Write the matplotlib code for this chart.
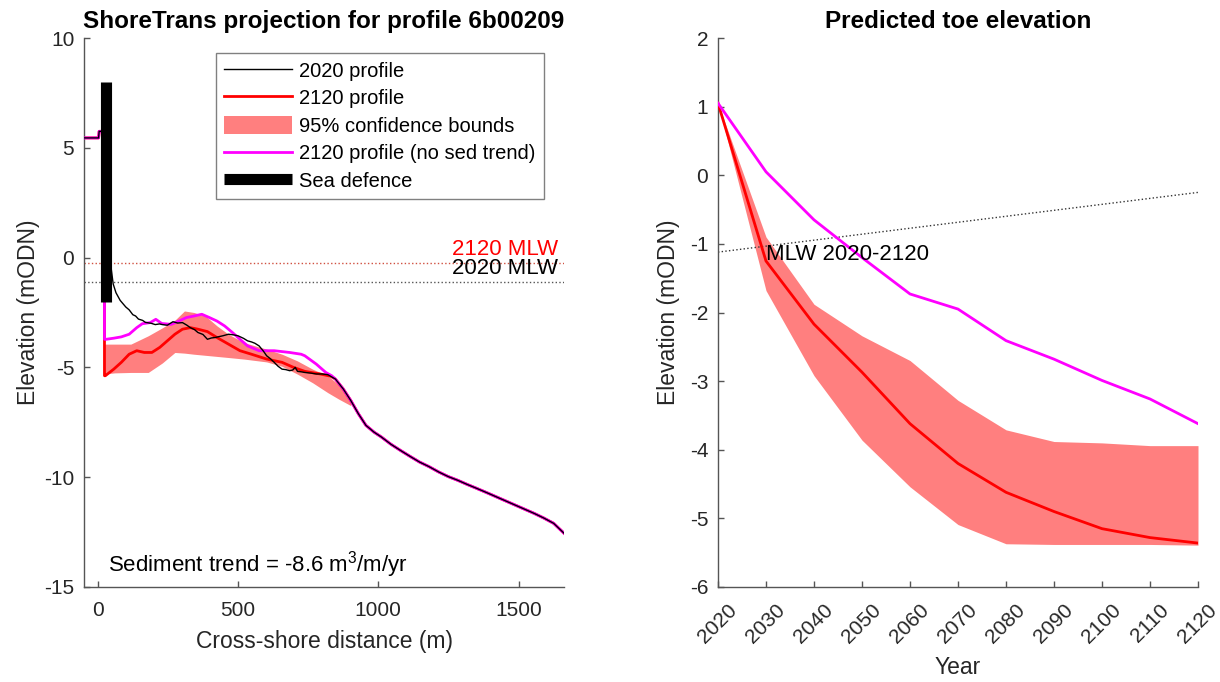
import numpy as np
import matplotlib
matplotlib.use("Agg")
import matplotlib.pyplot as plt
from matplotlib.lines import Line2D
from matplotlib.patches import Patch

plt.rcParams['font.family'] = ['Liberation Sans', 'DejaVu Sans']
plt.rcParams['mathtext.fontset'] = 'custom'
plt.rcParams['mathtext.rm'] = 'Liberation Sans'
plt.rcParams['axes.unicode_minus'] = False

# === Left panel: cross-shore profiles ===
# landward part (shared by all profiles)
land_x = [-49, 3, 5, 22]
land_z = [5.45, 5.45, 5.75, 5.75]

# 2020 profile, nearshore part
p2020_x = [30, 42, 48, 55, 65, 80, 100, 112, 125, 135, 145, 160, 170, 190, 205, 220,
           230, 248, 258, 268, 285, 302, 318, 330, 345, 357, 375, 391, 405, 418, 432,
           446, 466, 485, 500, 520, 534, 548, 560, 575, 590, 602, 615, 629, 643, 657,
           670, 684, 695, 704, 712, 725, 738, 760, 779, 800, 820]
p2020_z = [3.5, 0.5, -0.5, -1.2, -1.6, -1.95, -2.25, -2.38, -2.6, -2.66, -2.8, -2.86,
           -2.95, -2.99, -3.05, -3.02, -3.05, -3.08, -3.0, -2.92, -2.98, -2.96, -3.08,
           -3.19, -3.28, -3.41, -3.5, -3.72, -3.66, -3.64, -3.6, -3.56, -3.49, -3.52,
           -3.56, -3.68, -3.79, -3.84, -3.9, -4.02, -4.25, -4.47, -4.6, -4.77, -4.95,
           -5.08, -5.1, -5.15, -5.12, -5.0, -5.18, -5.2, -5.23, -5.26, -5.30, -5.3,
           -5.33]

# 2120 profile, nearshore part
p2120_x = [24, 24, 27, 57, 84, 112, 139, 166, 193, 221, 248, 275, 302, 330, 357, 391,
           425, 466, 507, 548, 602, 657, 698, 738, 793, 830]
p2120_z = [5.75, -5.38, -5.38, -5.08, -4.77, -4.40, -4.24, -4.32, -4.32, -4.09, -3.79,
           -3.49, -3.26, -3.19, -3.26, -3.37, -3.64, -3.94, -4.24, -4.40, -4.62, -4.77,
           -5.0, -5.18, -5.30, -5.4]

# 2120 profile without sediment trend, nearshore part
nosed_x = [24, 24, 30, 57, 84, 112, 139, 159, 187, 207, 228, 262, 289, 316, 343, 371,
           398, 425, 452, 480, 507, 534, 575, 629, 684, 725, 738, 779, 813, 834]
nosed_z = [5.75, -3.72, -3.72, -3.67, -3.61, -3.49, -3.19, -3.01, -2.96, -2.81, -3.0,
           -3.04, -2.89, -2.73, -2.66, -2.58, -2.73, -2.89, -3.11, -3.41, -3.72, -4.02,
           -4.24, -4.24, -4.32, -4.40, -4.47, -4.85, -5.23, -5.38]

# offshore part (shared)
off_x = [847, 875, 902, 929, 956, 985, 1011, 1045, 1079, 1113, 1147, 1181, 1215, 1249,
         1283, 1317, 1351, 1386, 1420, 1454, 1488, 1522, 1556, 1590, 1625, 1662]
off_z = [-5.53, -5.98, -6.51, -7.11, -7.64, -7.95, -8.17, -8.5, -8.78, -9.05, -9.31,
         -9.52, -9.76, -9.97, -10.14, -10.33, -10.51, -10.70, -10.89, -11.08, -11.27,
         -11.46, -11.65, -11.86, -12.1, -12.55]

# 95% confidence bounds of 2120 profile
ci_x = [24, 60, 118, 180, 230, 275, 309, 343, 384, 425, 466, 521, 602, 657, 711, 766,
        820, 860, 902]
ci_lo = [-5.30, -5.25, -5.23, -5.23, -4.80, -4.32, -4.35, -4.40, -4.45, -4.50, -4.55,
         -4.62, -4.75, -4.95, -5.30, -5.70, -6.15, -6.45, -6.74]
ci_hi = [-3.94, -3.94, -3.94, -3.56, -3.20, -2.85, -2.43, -2.50, -2.66, -3.11, -3.49,
         -3.87, -4.17, -4.40, -4.70, -5.08, -5.38, -5.80, -6.55]

defence_x = 29
defence_z = [-2, 8]
mlw_2020 = -1.12
mlw_2120 = -0.25
sed_trend = -8.6

# === Right panel: toe elevation ===
years = [2020, 2030, 2040, 2050, 2060, 2070, 2080, 2090, 2100, 2110, 2120]
toe = [1.05, -1.25, -2.17, -2.87, -3.62, -4.2, -4.62, -4.9, -5.15, -5.28, -5.36]
toe_lo = [1.05, -1.68, -2.92, -3.86, -4.54, -5.09, -5.37, -5.38, -5.38, -5.38, -5.39]
toe_hi = [1.05, -0.9, -1.88, -2.34, -2.70, -3.28, -3.71, -3.88, -3.90, -3.94, -3.94]
toe_nosed = [1.05, 0.05, -0.65, -1.2, -1.73, -1.95, -2.41, -2.68, -2.99, -3.26, -3.62]

RED = '#ff0000'
PINK = '#ff7f7f'
MAG = '#ff00ff'
AXC = '#262626'

fig = plt.figure(figsize=(12.2, 6.82), dpi=100)
ax1 = fig.add_axes([84 / 1220, 95 / 682, 480 / 1220, 549 / 682])
ax2 = fig.add_axes([718 / 1220, 95 / 682, 480 / 1220, 549 / 682])

for ax in (ax1, ax2):
    for s in ('top', 'right'):
        ax.spines[s].set_visible(False)
    for s in ('left', 'bottom'):
        ax.spines[s].set_color('#555555')
        ax.spines[s].set_linewidth(1.0)
    ax.tick_params(direction='in', length=4, width=1, color='#555555',
                   labelcolor=AXC, labelsize=15)
    ax.tick_params(axis='x', pad=10)
    ax.tick_params(axis='y', pad=7)

# left panel
xlo, xhi = land_x[0], off_x[-1]
ax1.fill_between(ci_x, ci_lo, ci_hi, color=PINK, lw=0, zorder=1)
ax1.plot([xlo, xhi], [mlw_2120, mlw_2120], ':', color='#d05040', lw=1, zorder=1)
ax1.plot([xlo, xhi], [mlw_2020, mlw_2020], ':', color='#555555', lw=1, zorder=1)
ax1.plot(land_x + p2120_x + off_x, land_z + p2120_z + off_z, color=RED, lw=2, zorder=2)
ax1.plot(land_x + nosed_x + off_x, land_z + nosed_z + off_z, color=MAG, lw=2, zorder=3)
ax1.plot(land_x + p2020_x + off_x, land_z + p2020_z + off_z, color='black', lw=1, zorder=4)
ax1.plot([defence_x, defence_x], defence_z, color='black', lw=8,
         solid_capstyle='butt', zorder=5)

ax1.text(1640, mlw_2120 + 0.15, '2120 MLW', color=RED, fontsize=16, ha='right', va='bottom')
ax1.text(1640, mlw_2020 + 0.15, '2020 MLW', color='black', fontsize=16, ha='right', va='bottom')
ax1.text(37, -14, 'Sediment trend = %.1f m$^3$/m/yr' % sed_trend, fontsize=16,
         ha='left', va='center')

ax1.set_xlim(xlo, xhi)
ax1.set_ylim(-15, 10)
ax1.set_xticks([0, 500, 1000, 1500])
ax1.set_yticks([-15, -10, -5, 0, 5, 10])
ax1.set_xlabel('Cross-shore distance (m)', fontsize=16.5, color=AXC, labelpad=7)
ax1.set_ylabel('Elevation (mODN)', fontsize=16.5, color=AXC, labelpad=3)
ax1.set_title('ShoreTrans projection for profile 6b00209', fontsize=17.5,
              fontweight='bold', pad=7)

handles = [Line2D([], [], color='black', lw=1),
           Line2D([], [], color=RED, lw=2),
           Patch(facecolor=PINK, edgecolor='none'),
           Line2D([], [], color=MAG, lw=2),
           Line2D([], [], color='black', lw=8, solid_capstyle='butt')]
labels = ['2020 profile', '2120 profile', '95% confidence bounds',
          '2120 profile (no sed trend)', 'Sea defence']
leg = ax1.legend(handles, labels, loc='upper right', bbox_to_anchor=(0.958, 0.973),
                 borderaxespad=0, fontsize=14.5, handlelength=3.4, handleheight=1.0,
                 handletextpad=0.35, labelspacing=0.38, borderpad=0.4,
                 fancybox=False, framealpha=1, edgecolor='#808080')
leg.get_frame().set_linewidth(1.0)

# right panel
ax2.fill_between(years, toe_lo, toe_hi, color=PINK, lw=0, zorder=1)
ax2.plot(years, toe, color=RED, lw=2, zorder=3)
ax2.plot(years, toe_nosed, color=MAG, lw=2, zorder=3)
ax2.plot([years[0], years[-1]], [mlw_2020, mlw_2120], ':', color='#333333', lw=1, zorder=2)
ax2.text(2030, -1.15, 'MLW 2020-2120', fontsize=16, ha='left', va='center')

ax2.set_xlim(2020, 2120)
ax2.set_ylim(-6, 2)
ax2.set_xticks(years)
ax2.set_xticklabels([str(y) for y in years], rotation=45, ha='center')
ax2.set_yticks(range(-6, 3))
ax2.set_xlabel('Year', fontsize=16.5, color=AXC, labelpad=6)
ax2.set_ylabel('Elevation (mODN)', fontsize=16.5, color=AXC, labelpad=7)
ax2.set_title('Predicted toe elevation', fontsize=17.5, fontweight='bold', pad=7)

fig.savefig('out.png', dpi=100)
